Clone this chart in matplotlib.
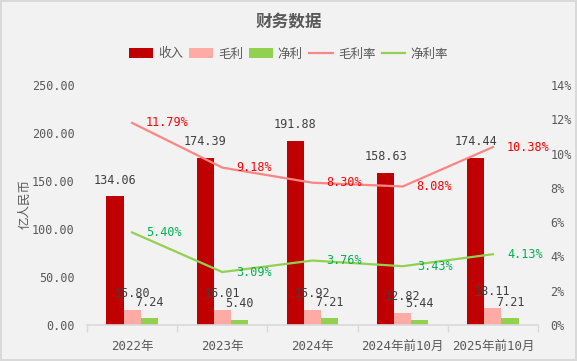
import matplotlib
matplotlib.use('Agg')
import matplotlib.pyplot as plt
from matplotlib.patches import Patch
from matplotlib.lines import Line2D
import numpy as np

categories = ['2022年', '2023年', '2024年', '2024年前10月', '2025年前10月']
revenue = [134.06, 174.39, 191.88, 158.63, 174.44]
gross_profit = [15.80, 16.01, 15.92, 12.82, 18.11]
net_profit = [7.24, 5.40, 7.21, 5.44, 7.21]
gross_margin = [11.79, 9.18, 8.30, 8.08, 10.38]
net_margin = [5.40, 3.09, 3.76, 3.43, 4.13]

c_rev = '#c00000'
c_gp = '#ffaba5'
c_np = '#92d050'
c_gm = '#ff8585'
c_nm = '#92d050'
c_text = '#595959'

plt.rcParams['font.family'] = ['DejaVu Sans Mono', 'Noto Sans CJK SC']

W, H = 577, 361
fig = plt.figure(figsize=(W / 100, H / 100), dpi=100, facecolor='#f2f2f2')
fig.patch.set_edgecolor('#d9d9d9')
fig.patch.set_linewidth(1.5)

ax = fig.add_axes([87 / W, 1 - 325 / H, 451 / W, 240 / H])
ax.set_facecolor('#f2f2f2')
x = np.arange(len(categories))
bw = 0.19

b1 = ax.bar(x - bw, revenue, bw, color=c_rev, zorder=2)
b2 = ax.bar(x, gross_profit, bw, color=c_gp, zorder=2)
b3 = ax.bar(x + bw, net_profit, bw, color=c_np, zorder=2)

ax.set_xlim(-0.5, len(categories) - 0.5)
ax.set_ylim(0, 250)
ax.set_yticks(np.arange(0, 251, 50))
ax.set_yticklabels([f'{v:.2f}' for v in np.arange(0, 251, 50)], fontsize=8.5, color=c_text)
ax.set_xticks(x)
ax.set_xticklabels(categories, fontsize=9, color=c_text)
ax.set_xticks(np.arange(-0.5, len(categories), 1.0), minor=True)
ax.tick_params(axis='x', which='major', length=0, pad=11)
ax.tick_params(axis='x', which='minor', length=5, color='#d9d9d9', width=1)
ax.tick_params(axis='y', length=0, pad=9)
for s in ['top', 'left', 'right']:
    ax.spines[s].set_visible(False)
ax.spines['bottom'].set_color('#d9d9d9')
ax.spines['bottom'].set_linewidth(1.2)

for bars, vals in [(b1, revenue), (b2, gross_profit), (b3, net_profit)]:
    for r, v in zip(bars, vals):
        ax.annotate(f'{v:.2f}', (r.get_x() + r.get_width() / 2, v),
                    xytext=(0, 16), textcoords='offset pixels',
                    ha='center', va='center', fontsize=8.5, color='#404040', zorder=5)

ax2 = ax.twinx()
ax2.set_ylim(0, 14)
ax2.set_yticks(np.arange(0, 15, 2))
ax2.set_yticklabels([f'{v}%' for v in range(0, 15, 2)], fontsize=8.5, color=c_text)
ax2.tick_params(axis='y', length=0, pad=9)
for s in ['top', 'left', 'right', 'bottom']:
    ax2.spines[s].set_visible(False)

ax2.plot(x, gross_margin, color=c_gm, lw=1.6, zorder=3)
ax2.plot(x, net_margin, color=c_nm, lw=1.6, zorder=3)
for xi, v in zip(x, gross_margin):
    ax2.annotate(f'{v:.2f}%', (xi, v), xytext=(14, 0), textcoords='offset pixels',
                 ha='left', va='center', fontsize=8.5, color='#ff0000')
for xi, v in zip(x, net_margin):
    ax2.annotate(f'{v:.2f}%', (xi, v), xytext=(14, 0), textcoords='offset pixels',
                 ha='left', va='center', fontsize=8.5, color='#00b050')

fig.text(0.5, 1 - 21 / H, '财务数据', ha='center', va='center', fontsize=12,
         fontweight='bold', color=c_text, family=['Noto Sans CJK SC'])
fig.text(25 / W, 1 - 204 / H, '亿人民币', rotation=90, ha='center', va='center',
         fontsize=9, color=c_text, family=['Noto Sans CJK SC'])

handles = [Patch(facecolor=c_rev), Patch(facecolor=c_gp), Patch(facecolor=c_np),
           Line2D([], [], color=c_gm, lw=1.6), Line2D([], [], color=c_nm, lw=1.6)]
labels = ['收入', '毛利', '净利', '毛利率', '净利率']
leg = fig.legend(handles, labels, loc='center', bbox_to_anchor=(0.5, 1 - 54 / H),
                 ncol=5, frameon=False, fontsize=9, handlelength=1.9, handleheight=0.8,
                 handletextpad=0.4, columnspacing=0.5, labelcolor=c_text,
                 prop={'family': ['Noto Sans CJK SC'], 'size': 9})

fig.savefig('out.png', dpi=100, facecolor=fig.get_facecolor(), edgecolor=fig.patch.get_edgecolor())
